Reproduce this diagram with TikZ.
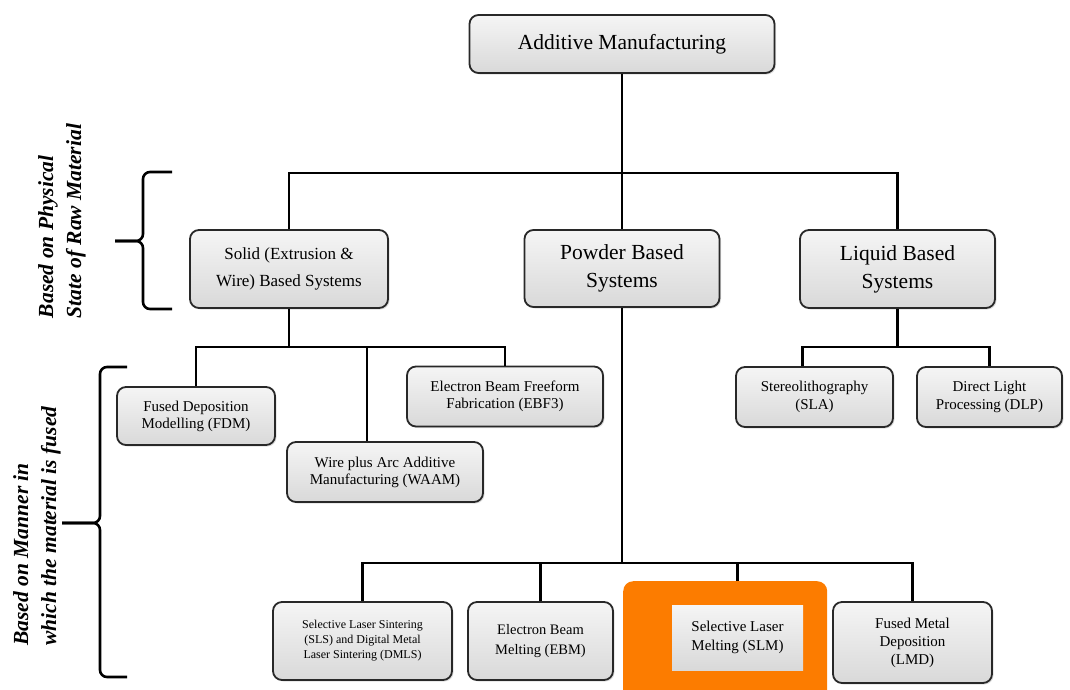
\documentclass[tikz,border=0pt]{standalone}
\usepackage{fontspec}
\setmainfont{Liberation Serif}
\usetikzlibrary{shapes,arrows,positioning,shadows}
\definecolor{slmorange}{RGB}{252,124,0}
\definecolor{boxline}{RGB}{40,40,40}

\begin{document}
\begin{tikzpicture}[x=1pt,y=-1pt,
	box/.style={draw=boxline, line width=1.8pt, rounded corners=9pt, top color=gray!8, bottom color=gray!30, align=center, inner sep=2pt, drop shadow={shadow xshift=1.5pt, shadow yshift=-1.5pt, opacity=0.25}},
	link/.style={black, line width=2.6pt},
	brace/.style={black, line width=2.6pt, rounded corners=7pt},
	side/.style={rotate=90, align=left, font=\fontsize{21.5}{28}\selectfont\bfseries\itshape}]
	\useasboundingbox (0,0) rectangle (1070,689);

%top
	\node[box, minimum width=305pt, minimum height=58pt, font=\fontsize{21.5}{26}\selectfont] (am) at (622,44) {Additive Manufacturing};

%physical state
	\node[box, minimum width=198pt, minimum height=78pt, font=\fontsize{17}{27}\selectfont] (solid) at (289,269) {Solid (Extrusion \&\\Wire) Based Systems};
	\node[box, minimum width=195pt, minimum height=77pt, font=\fontsize{21.5}{28}\selectfont] (powder) at (622,268.5) {Powder Based\\Systems};
	\node[box, minimum width=195pt, minimum height=78pt, font=\fontsize{21.5}{28}\selectfont] (liquid) at (897.5,269) {Liquid Based\\Systems};

%solid
	\node[box, minimum width=158pt, minimum height=58pt, font=\fontsize{15}{17}\selectfont] (fdm) at (196,416) {Fused Deposition\\Modelling (FDM)};
	\node[box, minimum width=196pt, minimum height=60pt, font=\fontsize{15}{17}\selectfont] (waam) at (385,472) {Wire plus Arc Additive\\Manufacturing (WAAM)};
	\node[box, minimum width=196pt, minimum height=60pt, font=\fontsize{15}{17}\selectfont] (ebf) at (505,396.5) {Electron Beam Freeform\\Fabrication (EBF3)};

%liquid
	\node[box, minimum width=157pt, minimum height=60pt, font=\fontsize{15}{18}\selectfont] (sla) at (814.5,397) {Stereolithography\\(SLA)};
	\node[box, minimum width=145pt, minimum height=60pt, font=\fontsize{15}{18}\selectfont] (dlp) at (989.5,397) {Direct Light\\Processing (DLP)};

%powder
	\node[box, minimum width=179pt, minimum height=78pt, font=\fontsize{12}{15}\selectfont] (sls) at (362.5,641) {Selective Laser Sintering\\(SLS) and Digital Metal\\Laser Sintering (DMLS)};
	\node[box, minimum width=145pt, minimum height=78pt, font=\fontsize{14.5}{20}\selectfont] (ebm) at (540.5,641) {Electron Beam\\Melting (EBM)};
	\node[fill=slmorange, rounded corners=10pt, minimum width=204pt, minimum height=130pt, anchor=north west] (slmframe) at (623,581) {};
	\node[top color=gray!8, bottom color=gray!30, minimum width=131pt, minimum height=65pt, align=center, font=\fontsize{15}{18.5}\selectfont] (slm) at (737.5,637.5) {Selective Laser\\Melting (SLM)};
	\node[box, minimum width=159pt, minimum height=81pt, font=\fontsize{15}{18}\selectfont] (lmd) at (912.5,642.5) {Fused Metal\\Deposition\\(LMD)};

%lines
	\coordinate (bus1) at (0,173);
	\coordinate (bus2) at (0,347);
	\coordinate (bus3) at (0,563);
	\draw[link] (am.south) -- (powder.north);
	\draw[link] (solid.north) -- (solid.north |- bus1) -- (liquid.north |- bus1) -- (liquid.north);
	%
	\draw[link] (solid.south) -- (solid.south |- bus2);
	\draw[link] (fdm.north) -- (fdm.north |- bus2) -- (ebf.north |- bus2) -- (ebf.north);
	\draw[link] ([xshift=-18pt]waam.north) -- ([xshift=-18pt]waam.north |- bus2);
	%
	\draw[link] (liquid.south) -- (liquid.south |- bus2);
	\draw[link] ([xshift=-12pt]sla.north) -- ([xshift=-12pt]sla.north |- bus2) -- (dlp.north |- bus2) -- (dlp.north);
	%
	\draw[link] (powder.south) -- (powder.south |- bus3);
	\draw[link] (sls.north) -- (sls.north |- bus3) -- (lmd.north |- bus3) -- (lmd.north);
	\draw[link] (ebm.north) -- (ebm.north |- bus3);
	\draw[link] (slm.north |- slmframe.north) -- (slm.north |- bus3);

%braces
	\draw[brace] (172,172) -- (143,172) -- (143,241) -- (115,241);
	\draw[brace] (172,309) -- (143,309) -- (143,241) -- (115,241);
	\draw[brace] (127,367) -- (100,367) -- (100,523) -- (62,523);
	\draw[brace] (127,677) -- (100,677) -- (100,523) -- (62,523);
	\node[side] (phys) at (62,221) {Based on Physical\\State of Raw Material};
	\node[side] (manner) at (37,526) {Based on Manner in\\which the material is fused};
\end{tikzpicture}
\end{document}
